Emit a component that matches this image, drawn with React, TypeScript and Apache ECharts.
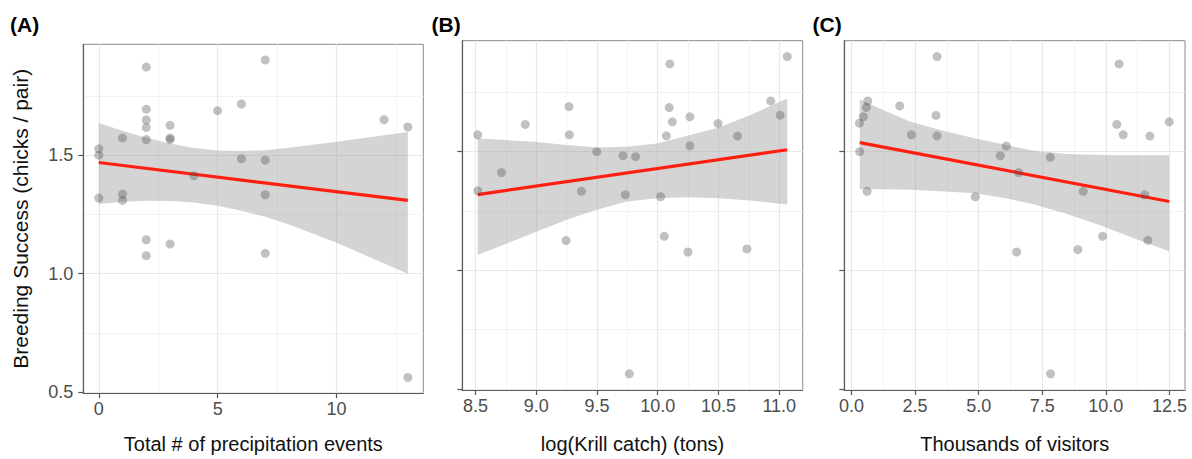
import React, { useEffect, useRef } from "react";
import * as echarts from "echarts";

const FONT = "'Liberation Sans', Arial, Helvetica, sans-serif";

// shared y axis
const yTicks = [0.5, 1.0, 1.5];
const yMinor = [0.75, 1.25, 1.75];
const yRange = [0.495, 1.968];

// Panel A: precipitation events
const precipEvents = [2, 7, 2, 5, 6, 2, 2, 3, 12, 13, 1, 2, 3, 3, 0, 0, 6, 7, 4, 0, 1, 1, 7, 2, 3, 2, 7, 13];
const successA = [1.872, 1.902, 1.694, 1.688, 1.716, 1.649, 1.617, 1.626, 1.65, 1.619, 1.573, 1.566, 1.573, 1.566, 1.527, 1.5, 1.485, 1.479, 1.413, 1.319, 1.336, 1.309, 1.333, 1.143, 1.125, 1.076, 1.086, 0.562];
const fitAX = [0, 13];
const fitAY = [1.469, 1.309];
const bandAX = [0, 1, 2, 3, 4, 5, 6, 7, 8, 10, 13];
const bandAHi = [1.636, 1.603, 1.574, 1.549, 1.53, 1.52, 1.518, 1.521, 1.531, 1.557, 1.598];
const bandALo = [1.294, 1.303, 1.308, 1.307, 1.3, 1.287, 1.266, 1.24, 1.207, 1.13, 1.0];
const ticksAX = [0, 5, 10];
const minorAX = [2.5, 7.5, 12.5];
const rangeAX = [-0.65, 13.65];

// Panel B: krill catch
const krillLog = [10.1, 11.066, 9.27, 10.095, 10.93, 8.91, 10.12, 10.265, 10.496, 11.008, 8.519, 9.273, 10.071, 10.657, 10.265, 9.498, 9.714, 9.818, 8.714, 8.519, 9.372, 9.734, 10.024, 9.246, 10.054, 10.249, 10.734, 9.766];
const successB = [1.87, 1.901, 1.69, 1.686, 1.714, 1.615, 1.626, 1.647, 1.619, 1.654, 1.571, 1.571, 1.567, 1.566, 1.525, 1.5, 1.483, 1.479, 1.412, 1.335, 1.333, 1.318, 1.31, 1.125, 1.143, 1.077, 1.09, 0.563];
const fitBX = [8.519, 11.066];
const fitBY = [1.319, 1.508];
const bandBX = [8.519, 8.977, 9.251, 9.498, 9.745, 9.991, 10.265, 10.496, 10.759, 11.066];
const bandBHi = [1.556, 1.542, 1.528, 1.518, 1.521, 1.535, 1.57, 1.601, 1.654, 1.724];
const bandBLo = [1.064, 1.157, 1.213, 1.255, 1.29, 1.304, 1.308, 1.304, 1.294, 1.277];
const ticksBX = [8.5, 9.0, 9.5, 10.0, 10.5, 11.0];
const minorBX = [8.75, 9.25, 9.75, 10.25, 10.75];
const rangeBX = [8.392, 11.193];

// Panel C: visitors (thousands)
const visitors = [3.364, 10.52, 0.641, 0.589, 0.471, 0.314, 1.898, 3.325, 10.43, 12.49, 2.356, 3.364, 10.68, 11.73, 0.327, 6.086, 5.851, 7.814, 6.571, 0.615, 4.869, 9.11, 11.53, 9.869, 6.492, 8.9, 11.65, 7.827];
const successC = [1.901, 1.87, 1.714, 1.686, 1.647, 1.62, 1.693, 1.653, 1.615, 1.626, 1.571, 1.567, 1.571, 1.566, 1.5, 1.524, 1.483, 1.476, 1.412, 1.333, 1.31, 1.333, 1.318, 1.143, 1.077, 1.087, 1.126, 0.563];
const fitCX = [0.327, 12.49];
const fitCY = [1.538, 1.29];
const bandCX = [0.327, 1.27, 2.317, 3.495, 4.869, 6.113, 7.16, 8.469, 9.777, 11.1, 12.487];
const bandCHi = [1.72, 1.675, 1.626, 1.591, 1.556, 1.528, 1.504, 1.49, 1.486, 1.485, 1.485];
const bandCLo = [1.343, 1.342, 1.339, 1.333, 1.325, 1.303, 1.278, 1.237, 1.19, 1.135, 1.08];
const ticksCX = [0, 2.5, 5, 7.5, 10, 12.5];
const minorCX = [1.25, 3.75, 6.25, 8.75, 11.25];
const rangeCX = [-0.28, 13.11];

const panelLabels = ["(A)", "(B)", "(C)"];
const xTitles = ["Total # of precipitation events", "log(Krill catch) (tons)", "Thousands of visitors"];
const yTitle = "Breeding Success (chicks / pair)";

const grids = [
  { left: 83.3, top: 44.3, width: 340, height: 349 },
  { left: 462.3, top: 40.7, width: 340.4, height: 349.3 },
  { left: 844.3, top: 40.7, width: 340.7, height: 349.3 },
];

const panels = [
  { xs: precipEvents, ys: successA, fx: fitAX, fy: fitAY, bx: bandAX, bh: bandAHi, bl: bandALo, ticks: ticksAX, minor: minorAX, range: rangeAX, fmt: (v: number) => String(v) },
  { xs: krillLog, ys: successB, fx: fitBX, fy: fitBY, bx: bandBX, bh: bandBHi, bl: bandBLo, ticks: ticksBX, minor: minorBX, range: rangeBX, fmt: (v: number) => v.toFixed(1) },
  { xs: visitors, ys: successC, fx: fitCX, fy: fitCY, bx: bandCX, bh: bandCHi, bl: bandCLo, ticks: ticksCX, minor: minorCX, range: rangeCX, fmt: (v: number) => v.toFixed(1) },
];

export default function App() {
  const ref = useRef<HTMLDivElement>(null);
  useEffect(() => {
    if (!ref.current) return;
    const chart = echarts.init(ref.current, undefined, { renderer: "svg" });
    const xAxis: any[] = [];
    const yAxis: any[] = [];
    const series: any[] = [];
    panels.forEach((p, i) => {
      xAxis.push({
        gridIndex: i,
        type: "value",
        min: p.range[0],
        max: p.range[1],
        axisLine: { show: true, onZero: false, lineStyle: { color: "#5a5a5a", width: 1.2 } },
        axisTick: { show: true, length: 5, customValues: p.ticks, lineStyle: { color: "#555", width: 1.2 } },
        axisLabel: { customValues: p.ticks, formatter: p.fmt, margin: 7, fontSize: 18, color: "#4d4d4d", fontFamily: FONT },
        splitLine: { show: false },
      });
      yAxis.push({
        gridIndex: i,
        type: "value",
        min: yRange[0],
        max: yRange[1],
        axisLine: { show: true, onZero: false, lineStyle: { color: "#5a5a5a", width: 1.2 } },
        axisTick: { show: true, length: 5, customValues: yTicks, lineStyle: { color: "#555", width: 1.2 } },
        axisLabel: { show: i === 0, customValues: yTicks, formatter: (v: number) => v.toFixed(1), margin: 10, fontSize: 18, color: "#4d4d4d", fontFamily: FONT },
        splitLine: { show: false },
      });
      const minorStyle = { color: "#f3f3f3", width: 1, type: "solid" };
      const majorStyle = { color: "#e8e8e8", width: 1.2, type: "solid" };
      series.push({
        type: "line",
        xAxisIndex: i,
        yAxisIndex: i,
        data: [],
        silent: true,
        markLine: {
          silent: true,
          symbol: ["none", "none"],
          label: { show: false },
          emphasis: { disabled: true },
          z: 0,
          data: [
            ...p.minor.map((v) => ({ xAxis: v, lineStyle: minorStyle })),
            ...yMinor.map((v) => ({ yAxis: v, lineStyle: minorStyle })),
            ...p.ticks.map((v) => ({ xAxis: v, lineStyle: majorStyle })),
            ...yTicks.map((v) => ({ yAxis: v, lineStyle: majorStyle })),
          ],
        },
      });
      series.push({
        type: "custom",
        xAxisIndex: i,
        yAxisIndex: i,
        z: 1,
        silent: true,
        data: [[p.bx[0], p.bl[0]]],
        renderItem: (_params: any, api: any) => {
          const pts: number[][] = [];
          p.bx.forEach((x, k) => pts.push(api.coord([x, p.bh[k]])));
          for (let k = p.bx.length - 1; k >= 0; k--) pts.push(api.coord([p.bx[k], p.bl[k]]));
          return { type: "polygon", shape: { points: pts }, style: { fill: "rgba(153,153,153,0.42)" } };
        },
      });
      series.push({
        type: "line",
        xAxisIndex: i,
        yAxisIndex: i,
        z: 2,
        silent: true,
        showSymbol: false,
        data: p.fx.map((x, k) => [x, p.fy[k]]),
        lineStyle: { color: "#ff1f10", width: 3.2 },
      });
      series.push({
        type: "scatter",
        xAxisIndex: i,
        yAxisIndex: i,
        z: 3,
        silent: true,
        symbolSize: 9,
        data: p.xs.map((x, k) => [x, p.ys[k]]),
        itemStyle: { color: "rgba(70,70,70,0.42)" },
      });
    });

    const labelX = [10, 431.5, 812.5];
    const titleX = [253.3, 632.5, 1014.7];
    const graphic: any[] = [];
    panelLabels.forEach((t, i) => {
      graphic.push({
        type: "text",
        x: labelX[i],
        y: 24,
        style: { text: t, fontSize: 21, fontWeight: "bold", fontFamily: FONT, fill: "#000", align: "left", verticalAlign: "middle" },
      });
    });
    xTitles.forEach((t, i) => {
      graphic.push({
        type: "text",
        x: titleX[i],
        y: 444,
        style: { text: t, fontSize: 20, fontFamily: FONT, fill: "#111", align: "center", verticalAlign: "middle" },
      });
    });
    graphic.push({
      type: "text",
      x: 20,
      y: 218.8,
      rotation: Math.PI / 2,
      style: { text: yTitle, fontSize: 21, fontFamily: FONT, fill: "#111", align: "center", verticalAlign: "middle" },
    });

    chart.setOption({
      animation: false,
      backgroundColor: "#ffffff",
      grid: grids.map((g) => ({ ...g, show: true, borderColor: "#8a8a8a", borderWidth: 1, backgroundColor: "transparent", containLabel: false })),
      xAxis,
      yAxis,
      series,
      graphic,
    });
    return () => chart.dispose();
  }, []);
  return <div ref={ref} style={{ position: "absolute", left: 0, top: 0, width: 1192, height: 459 }} />;
}
